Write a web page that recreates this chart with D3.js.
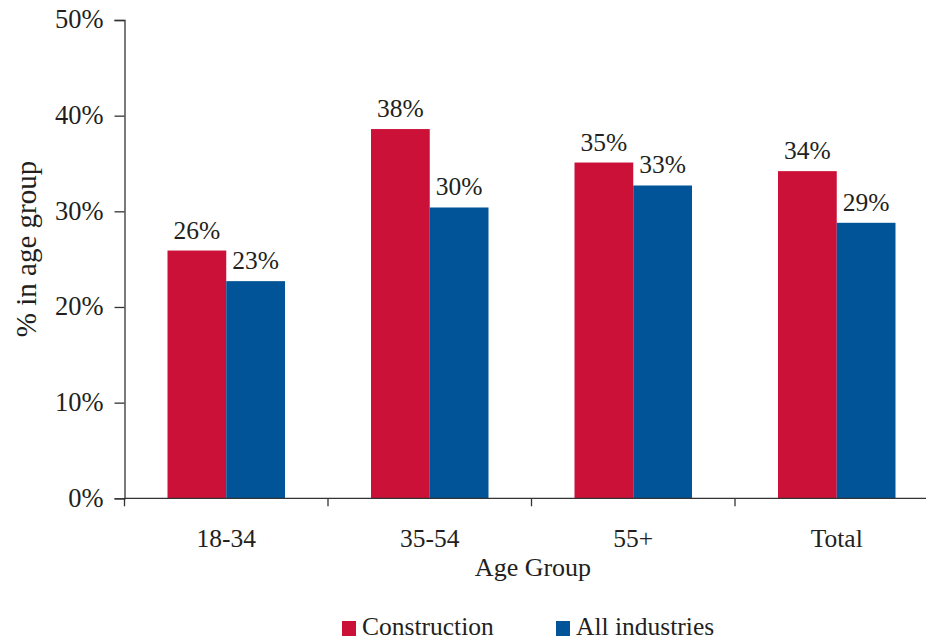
<!DOCTYPE html>
<html>
<head>
<meta charset="utf-8">
<script src="https://cdn.jsdelivr.net/npm/d3@7"></script>
<style>
  html, body { margin: 0; padding: 0; background: #fff; }
  svg text { font-family: "Liberation Serif", "Times New Roman", serif; fill: #231f20; }
</style>
</head>
<body>
<svg id="chart" width="926" height="640"></svg>
<script>
const categories = ["18-34", "35-54", "55+", "Total"];
const seriesNames = ["Construction", "All industries"];
const construction = [25.9, 38.6, 35.1, 34.2];
const allIndustries = [22.7, 30.4, 32.7, 28.8];
const constructionLabels = ["26%", "38%", "35%", "34%"];
const allIndustriesLabels = ["23%", "30%", "33%", "29%"];
const yTicks = [0, 10, 20, 30, 40, 50];
const colors = ["#cc1139", "#005497"];

const svg = d3.select("#chart");
const plotLeft = 124.5, plotTop = 20, plotBottom = 498.3, bandW = 203.5;
const fs = "25.5px";

const x = d3.scaleBand().domain(categories).range([plotLeft, plotLeft + bandW * categories.length]).padding(0);
const x1 = d3.scaleBand().domain(seriesNames).range([43, 160.5]).padding(0);
const y = d3.scaleLinear().domain([0, 50]).range([plotBottom, plotTop]);

const values = [construction, allIndustries];
const labels = [constructionLabels, allIndustriesLabels];

// Y axis
const yAxis = svg.append("g").attr("transform", `translate(${plotLeft},0)`)
  .call(d3.axisLeft(y).tickValues(yTicks).tickFormat(d => d + "%").tickSize(10).tickPadding(11));
yAxis.select(".domain").attr("stroke", "#333").attr("stroke-width", 1.3);
yAxis.selectAll(".tick line").attr("stroke", "#333").attr("stroke-width", 1.3);
yAxis.selectAll(".tick text").style("font-size", "26.5px").style("font-family", "Liberation Serif").attr("dy", "0.3em").attr("fill", "#231f20");

// Bars
seriesNames.forEach((s, si) => {
  svg.append("g").selectAll("rect").data(categories).join("rect")
    .attr("x", c => x(c) + x1(s))
    .attr("width", x1.bandwidth())
    .attr("y", (c, i) => y(values[si][i]))
    .attr("height", (c, i) => y(0) - y(values[si][i]))
    .attr("fill", colors[si]);
  svg.append("g").selectAll("text").data(categories).join("text")
    .attr("x", c => x(c) + x1(s) + x1.bandwidth() / 2)
    .attr("y", (c, i) => y(values[si][i]) - 12)
    .attr("text-anchor", "middle")
    .style("font-size", fs)
    .text((c, i) => labels[si][i]);
});

// X axis
const xg = svg.append("g");
xg.append("line").attr("x1", plotLeft).attr("x2", 926).attr("y1", plotBottom).attr("y2", plotBottom)
  .attr("stroke", "#333").attr("stroke-width", 1.3);
const boundaries = categories.map(c => x(c)).concat([x.range()[1]]);
xg.selectAll("line.tk").data(boundaries).join("line").attr("class", "tk")
  .attr("x1", d => d).attr("x2", d => d).attr("y1", plotBottom).attr("y2", plotBottom + 8)
  .attr("stroke", "#333").attr("stroke-width", 1.3);
xg.selectAll("text").data(categories).join("text")
  .attr("x", c => x(c) + x.bandwidth() / 2)
  .attr("y", 547)
  .attr("text-anchor", "middle")
  .style("font-size", fs)
  .text(c => c);

// Axis titles
svg.append("text").attr("x", 533).attr("y", 576).attr("text-anchor", "middle")
  .style("font-size", "26px").text("Age Group");
svg.append("text").attr("transform", `translate(36,249) rotate(-90)`)
  .attr("text-anchor", "middle").style("font-size", "29px").text("% in age group");

// Legend
const legendX = [342, 556];
seriesNames.forEach((s, si) => {
  svg.append("rect").attr("x", legendX[si]).attr("y", 621).attr("width", 14).attr("height", 15).attr("fill", colors[si]);
  svg.append("text").attr("x", legendX[si] + 20).attr("y", 634.5).style("font-size", fs).text(s);
});
</script>
</body>
</html>
